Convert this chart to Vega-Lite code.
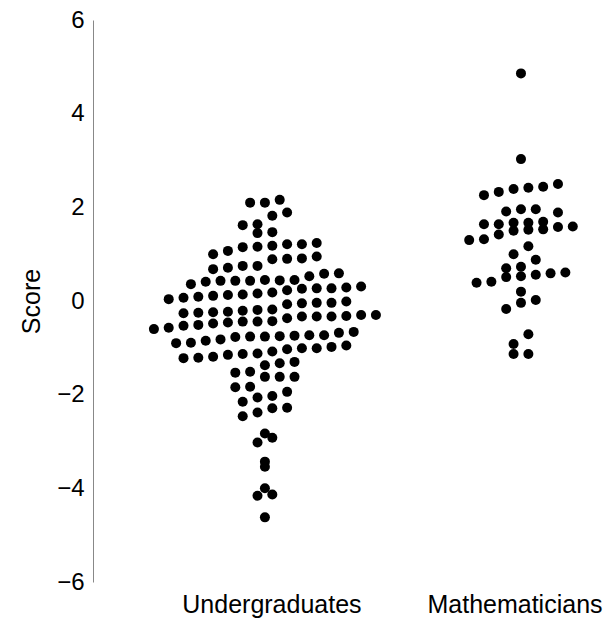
{
  "$schema": "https://vega.github.io/schema/vega-lite/v6.json",
  "width": 507,
  "height": 562,
  "autosize": {"type": "none"},
  "padding": {"left": 93, "top": 20, "right": 7, "bottom": 37},
  "config": {"view": {"stroke": null}, "font": "Liberation Sans"},
  "datasets": {
    "scores": [
      {"group": "Undergraduates", "slot": -1, "score": 2.10},
      {"group": "Undergraduates", "slot": 0, "score": 2.10},
      {"group": "Undergraduates", "slot": 1, "score": 2.16},
      {"group": "Undergraduates", "slot": 0.5, "score": 1.82},
      {"group": "Undergraduates", "slot": 1.5, "score": 1.89},
      {"group": "Undergraduates", "slot": -1.5, "score": 1.62},
      {"group": "Undergraduates", "slot": -0.5, "score": 1.64},
      {"group": "Undergraduates", "slot": -0.5, "score": 1.45},
      {"group": "Undergraduates", "slot": 0.5, "score": 1.47},
      {"group": "Undergraduates", "slot": -3.5, "score": 1.00},
      {"group": "Undergraduates", "slot": -2.5, "score": 1.07},
      {"group": "Undergraduates", "slot": -1.5, "score": 1.15},
      {"group": "Undergraduates", "slot": -0.5, "score": 1.16},
      {"group": "Undergraduates", "slot": 0.5, "score": 1.18},
      {"group": "Undergraduates", "slot": 1.5, "score": 1.21},
      {"group": "Undergraduates", "slot": 2.5, "score": 1.21},
      {"group": "Undergraduates", "slot": 3.5, "score": 1.24},
      {"group": "Undergraduates", "slot": 0.5, "score": 0.89},
      {"group": "Undergraduates", "slot": 1.5, "score": 0.90},
      {"group": "Undergraduates", "slot": 2.5, "score": 0.91},
      {"group": "Undergraduates", "slot": 3.5, "score": 0.95},
      {"group": "Undergraduates", "slot": -3.5, "score": 0.68},
      {"group": "Undergraduates", "slot": -2.5, "score": 0.71},
      {"group": "Undergraduates", "slot": -1.5, "score": 0.75},
      {"group": "Undergraduates", "slot": -0.5, "score": 0.75},
      {"group": "Undergraduates", "slot": -5, "score": 0.36},
      {"group": "Undergraduates", "slot": -4, "score": 0.41},
      {"group": "Undergraduates", "slot": -3, "score": 0.43},
      {"group": "Undergraduates", "slot": -2, "score": 0.43},
      {"group": "Undergraduates", "slot": -1, "score": 0.43},
      {"group": "Undergraduates", "slot": 0, "score": 0.45},
      {"group": "Undergraduates", "slot": 1, "score": 0.44},
      {"group": "Undergraduates", "slot": 2, "score": 0.45},
      {"group": "Undergraduates", "slot": 3, "score": 0.53},
      {"group": "Undergraduates", "slot": 4, "score": 0.58},
      {"group": "Undergraduates", "slot": 5, "score": 0.59},
      {"group": "Undergraduates", "slot": 1.5, "score": 0.23},
      {"group": "Undergraduates", "slot": 2.5, "score": 0.26},
      {"group": "Undergraduates", "slot": 3.5, "score": 0.27},
      {"group": "Undergraduates", "slot": 4.5, "score": 0.27},
      {"group": "Undergraduates", "slot": 5.5, "score": 0.29},
      {"group": "Undergraduates", "slot": 6.5, "score": 0.31},
      {"group": "Undergraduates", "slot": -6.5, "score": 0.04},
      {"group": "Undergraduates", "slot": -5.5, "score": 0.07},
      {"group": "Undergraduates", "slot": -4.5, "score": 0.09},
      {"group": "Undergraduates", "slot": -3.5, "score": 0.11},
      {"group": "Undergraduates", "slot": -2.5, "score": 0.13},
      {"group": "Undergraduates", "slot": -1.5, "score": 0.14},
      {"group": "Undergraduates", "slot": -0.5, "score": 0.16},
      {"group": "Undergraduates", "slot": 0.5, "score": 0.18},
      {"group": "Undergraduates", "slot": 1.5, "score": -0.07},
      {"group": "Undergraduates", "slot": 2.5, "score": -0.05},
      {"group": "Undergraduates", "slot": 3.5, "score": -0.04},
      {"group": "Undergraduates", "slot": 4.5, "score": -0.04},
      {"group": "Undergraduates", "slot": 5.5, "score": -0.01},
      {"group": "Undergraduates", "slot": -5.5, "score": -0.26},
      {"group": "Undergraduates", "slot": -4.5, "score": -0.25},
      {"group": "Undergraduates", "slot": -3.5, "score": -0.24},
      {"group": "Undergraduates", "slot": -2.5, "score": -0.23},
      {"group": "Undergraduates", "slot": -1.5, "score": -0.21},
      {"group": "Undergraduates", "slot": -0.5, "score": -0.19},
      {"group": "Undergraduates", "slot": 0.5, "score": -0.18},
      {"group": "Undergraduates", "slot": 1.5, "score": -0.37},
      {"group": "Undergraduates", "slot": 2.5, "score": -0.33},
      {"group": "Undergraduates", "slot": 3.5, "score": -0.33},
      {"group": "Undergraduates", "slot": 4.5, "score": -0.33},
      {"group": "Undergraduates", "slot": 5.5, "score": -0.32},
      {"group": "Undergraduates", "slot": 6.5, "score": -0.30},
      {"group": "Undergraduates", "slot": 7.5, "score": -0.30},
      {"group": "Undergraduates", "slot": -7.5, "score": -0.60},
      {"group": "Undergraduates", "slot": -6.5, "score": -0.57},
      {"group": "Undergraduates", "slot": -5.5, "score": -0.53},
      {"group": "Undergraduates", "slot": -4.5, "score": -0.51},
      {"group": "Undergraduates", "slot": -3.5, "score": -0.48},
      {"group": "Undergraduates", "slot": -2.5, "score": -0.46},
      {"group": "Undergraduates", "slot": -1.5, "score": -0.44},
      {"group": "Undergraduates", "slot": -0.5, "score": -0.44},
      {"group": "Undergraduates", "slot": 0.5, "score": -0.43},
      {"group": "Undergraduates", "slot": -6, "score": -0.90},
      {"group": "Undergraduates", "slot": -5, "score": -0.89},
      {"group": "Undergraduates", "slot": -4, "score": -0.85},
      {"group": "Undergraduates", "slot": -3, "score": -0.82},
      {"group": "Undergraduates", "slot": -2, "score": -0.77},
      {"group": "Undergraduates", "slot": -1, "score": -0.76},
      {"group": "Undergraduates", "slot": 0, "score": -0.76},
      {"group": "Undergraduates", "slot": 1, "score": -0.75},
      {"group": "Undergraduates", "slot": 2, "score": -0.74},
      {"group": "Undergraduates", "slot": 3, "score": -0.73},
      {"group": "Undergraduates", "slot": 4, "score": -0.73},
      {"group": "Undergraduates", "slot": 5, "score": -0.68},
      {"group": "Undergraduates", "slot": 6, "score": -0.66},
      {"group": "Undergraduates", "slot": -5.5, "score": -1.22},
      {"group": "Undergraduates", "slot": -4.5, "score": -1.21},
      {"group": "Undergraduates", "slot": -3.5, "score": -1.19},
      {"group": "Undergraduates", "slot": -2.5, "score": -1.15},
      {"group": "Undergraduates", "slot": -1.5, "score": -1.13},
      {"group": "Undergraduates", "slot": -0.5, "score": -1.12},
      {"group": "Undergraduates", "slot": 0.5, "score": -1.08},
      {"group": "Undergraduates", "slot": 1.5, "score": -1.03},
      {"group": "Undergraduates", "slot": 2.5, "score": -1.01},
      {"group": "Undergraduates", "slot": 3.5, "score": -1.01},
      {"group": "Undergraduates", "slot": 4.5, "score": -0.98},
      {"group": "Undergraduates", "slot": 5.5, "score": -0.95},
      {"group": "Undergraduates", "slot": 0, "score": -1.37},
      {"group": "Undergraduates", "slot": 1, "score": -1.33},
      {"group": "Undergraduates", "slot": 2, "score": -1.30},
      {"group": "Undergraduates", "slot": -2, "score": -1.53},
      {"group": "Undergraduates", "slot": -1, "score": -1.51},
      {"group": "Undergraduates", "slot": 0, "score": -1.62},
      {"group": "Undergraduates", "slot": 1, "score": -1.62},
      {"group": "Undergraduates", "slot": 2, "score": -1.62},
      {"group": "Undergraduates", "slot": -2, "score": -1.84},
      {"group": "Undergraduates", "slot": -1, "score": -1.83},
      {"group": "Undergraduates", "slot": -1.5, "score": -2.15},
      {"group": "Undergraduates", "slot": -0.5, "score": -2.06},
      {"group": "Undergraduates", "slot": 0.5, "score": -2.03},
      {"group": "Undergraduates", "slot": 1.5, "score": -1.94},
      {"group": "Undergraduates", "slot": -1.5, "score": -2.46},
      {"group": "Undergraduates", "slot": -0.5, "score": -2.38},
      {"group": "Undergraduates", "slot": 0.5, "score": -2.29},
      {"group": "Undergraduates", "slot": 1.5, "score": -2.28},
      {"group": "Undergraduates", "slot": 0, "score": -2.83},
      {"group": "Undergraduates", "slot": 0.5, "score": -2.92},
      {"group": "Undergraduates", "slot": -0.5, "score": -3.02},
      {"group": "Undergraduates", "slot": 0, "score": -3.43},
      {"group": "Undergraduates", "slot": 0, "score": -3.54},
      {"group": "Undergraduates", "slot": 0, "score": -4.00},
      {"group": "Undergraduates", "slot": -0.5, "score": -4.16},
      {"group": "Undergraduates", "slot": 0.5, "score": -4.13},
      {"group": "Undergraduates", "slot": 0, "score": -4.62},
      {"group": "Mathematicians", "slot": 0, "score": 4.86},
      {"group": "Mathematicians", "slot": 0, "score": 3.03},
      {"group": "Mathematicians", "slot": -2.5, "score": 2.26},
      {"group": "Mathematicians", "slot": -1.5, "score": 2.33},
      {"group": "Mathematicians", "slot": -0.5, "score": 2.39},
      {"group": "Mathematicians", "slot": 0.5, "score": 2.42},
      {"group": "Mathematicians", "slot": 1.5, "score": 2.44},
      {"group": "Mathematicians", "slot": 2.5, "score": 2.50},
      {"group": "Mathematicians", "slot": -1, "score": 1.91},
      {"group": "Mathematicians", "slot": 0, "score": 1.96},
      {"group": "Mathematicians", "slot": 1, "score": 1.96},
      {"group": "Mathematicians", "slot": 2.5, "score": 1.89},
      {"group": "Mathematicians", "slot": -2.5, "score": 1.64},
      {"group": "Mathematicians", "slot": -1.5, "score": 1.64},
      {"group": "Mathematicians", "slot": -0.5, "score": 1.67},
      {"group": "Mathematicians", "slot": -0.5, "score": 1.50},
      {"group": "Mathematicians", "slot": 0.5, "score": 1.67},
      {"group": "Mathematicians", "slot": 0.5, "score": 1.52},
      {"group": "Mathematicians", "slot": 1.5, "score": 1.69},
      {"group": "Mathematicians", "slot": 1.5, "score": 1.53},
      {"group": "Mathematicians", "slot": 2.5, "score": 1.58},
      {"group": "Mathematicians", "slot": 3.5, "score": 1.59},
      {"group": "Mathematicians", "slot": -3.5, "score": 1.30},
      {"group": "Mathematicians", "slot": -2.5, "score": 1.32},
      {"group": "Mathematicians", "slot": -1.5, "score": 1.42},
      {"group": "Mathematicians", "slot": 0.5, "score": 1.17},
      {"group": "Mathematicians", "slot": -0.5, "score": 1.00},
      {"group": "Mathematicians", "slot": 1, "score": 0.88},
      {"group": "Mathematicians", "slot": -1, "score": 0.70},
      {"group": "Mathematicians", "slot": -1, "score": 0.51},
      {"group": "Mathematicians", "slot": 0, "score": 0.73},
      {"group": "Mathematicians", "slot": 0, "score": 0.53},
      {"group": "Mathematicians", "slot": 1, "score": 0.56},
      {"group": "Mathematicians", "slot": 2, "score": 0.59},
      {"group": "Mathematicians", "slot": 3, "score": 0.61},
      {"group": "Mathematicians", "slot": -3, "score": 0.39},
      {"group": "Mathematicians", "slot": -2, "score": 0.41},
      {"group": "Mathematicians", "slot": 0, "score": 0.20},
      {"group": "Mathematicians", "slot": 0, "score": -0.04},
      {"group": "Mathematicians", "slot": 1, "score": 0.02},
      {"group": "Mathematicians", "slot": -1, "score": -0.17},
      {"group": "Mathematicians", "slot": 0.5, "score": -0.71},
      {"group": "Mathematicians", "slot": -0.5, "score": -0.92},
      {"group": "Mathematicians", "slot": -0.5, "score": -1.13},
      {"group": "Mathematicians", "slot": 0.5, "score": -1.13}
    ]
  },
  "data": {"name": "scores"},
  "mark": {"type": "circle", "size": 100, "color": "black", "opacity": 1},
  "encoding": {
    "x": {
      "field": "group",
      "type": "nominal",
      "sort": ["Undergraduates", "Mathematicians"],
      "scale": {"paddingInner": 0.5, "paddingOuter": 0.24, "align": 0.878},
      "axis": {
        "title": null,
        "domain": false,
        "ticks": false,
        "labelAngle": 0,
        "labelFontSize": 25,
        "labelPadding": 10,
        "labelColor": "black",
        "labelOffset": {"condition": {"test": "datum.value === 'Undergraduates'", "value": 7}, "value": -6}
      }
    },
    "xOffset": {
      "field": "slot",
      "type": "quantitative",
      "scale": {"domain": [-10, 10], "range": [-84, 212]}
    },
    "y": {
      "field": "score",
      "type": "quantitative",
      "scale": {"domain": [-6, 6], "nice": false, "zero": false},
      "axis": {
        "values": [-6, -4, -2, 0, 2, 4, 6],
        "grid": false,
        "ticks": false,
        "domainColor": "#888888",
        "labelFontSize": 24,
        "labelPadding": 9,
        "labelColor": "black",
        "title": "Score",
        "titleFontSize": 25,
        "titleFontWeight": "normal",
        "titleColor": "black",
        "titlePadding": 12
      }
    }
  }
}
